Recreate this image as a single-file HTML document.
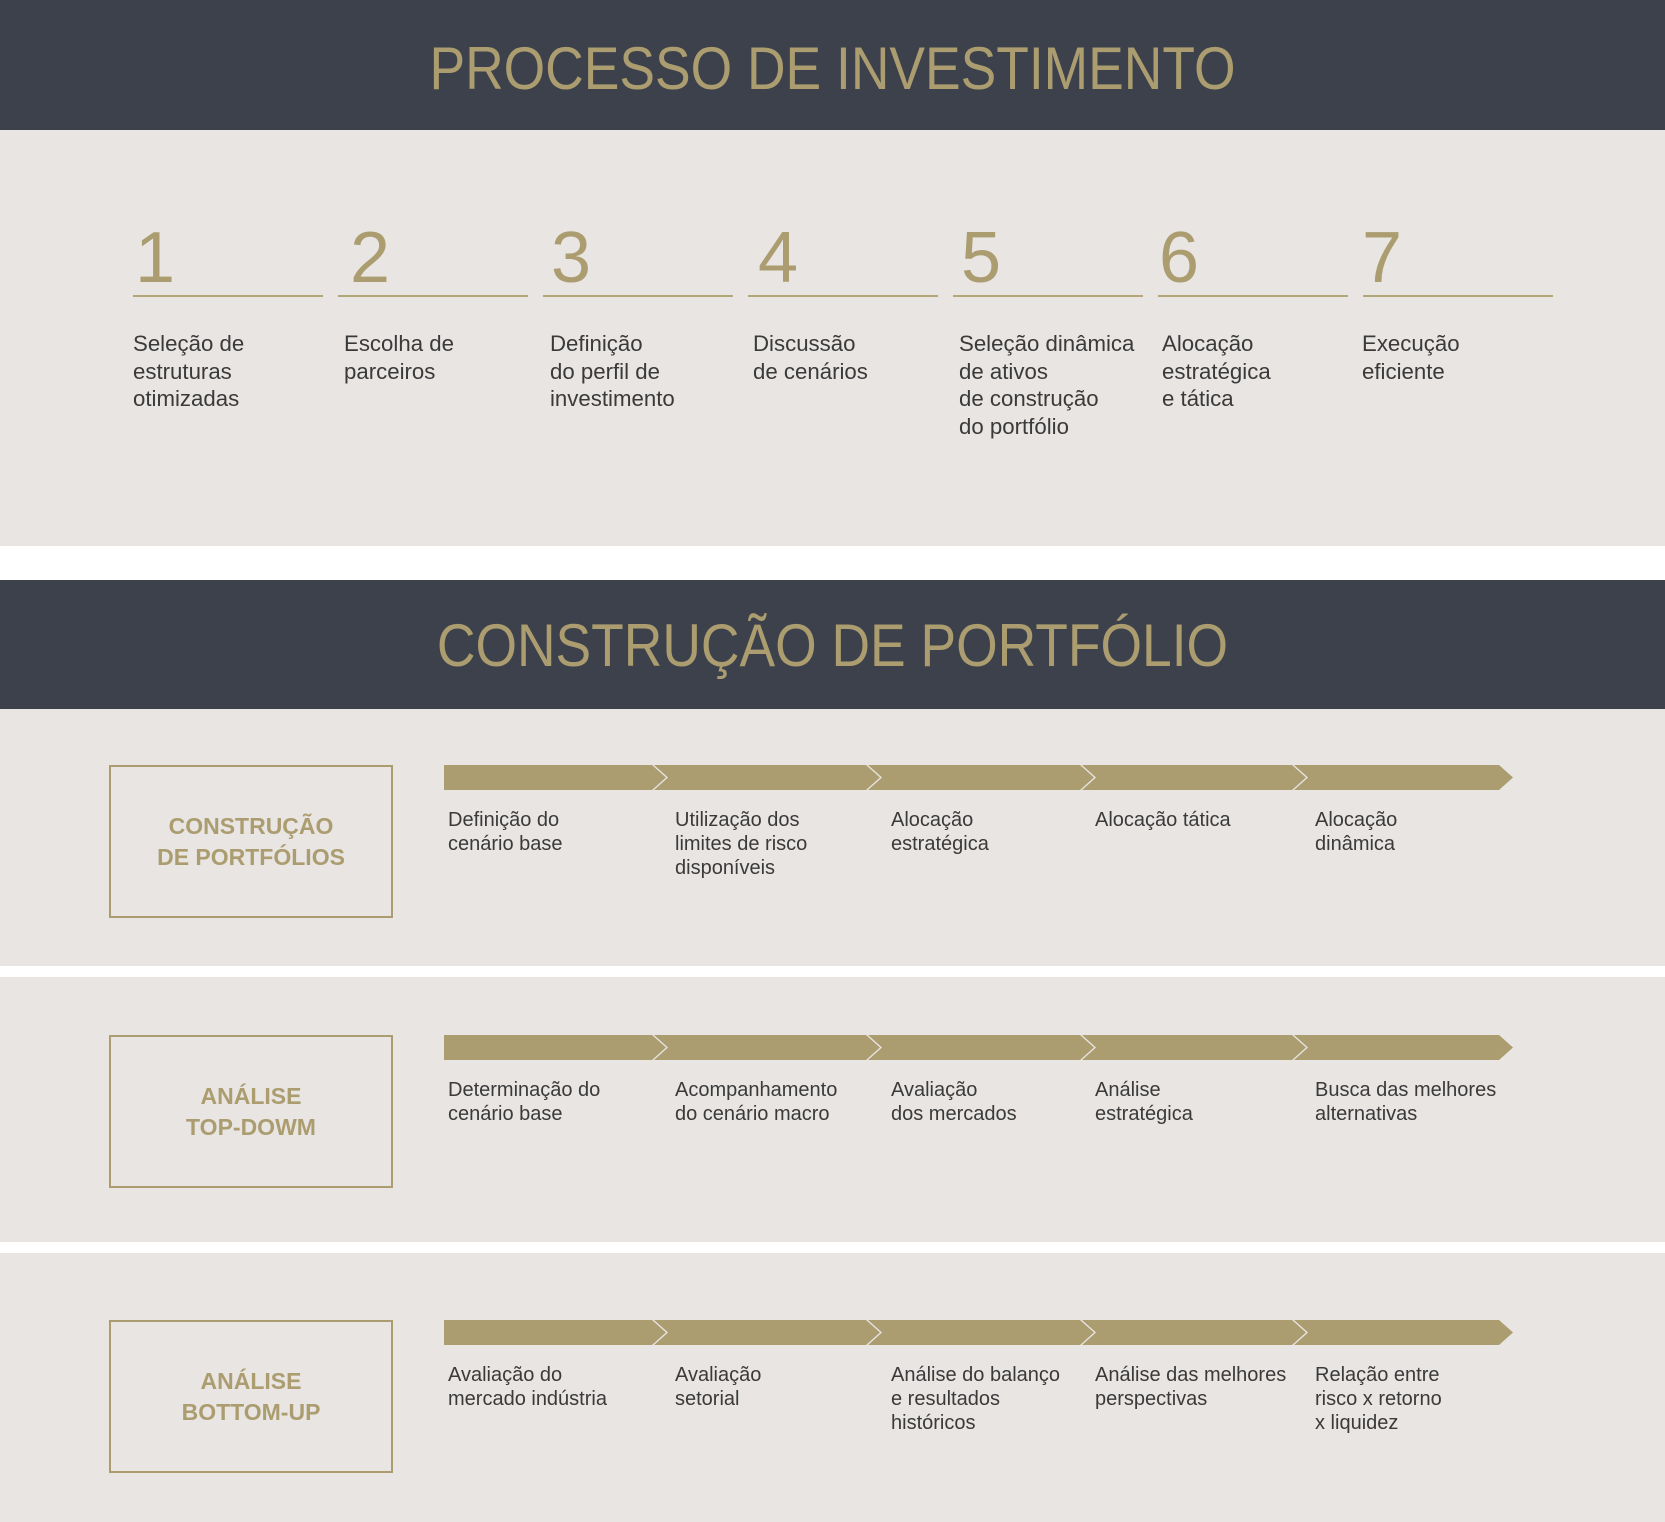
<!DOCTYPE html>
<html><head><meta charset="utf-8"><style>
body{margin:0;width:1665px;height:1522px;position:relative;background:#fff;font-family:"Liberation Sans",sans-serif;overflow:hidden}
.abs{position:absolute}
.hdr{left:0;width:1665px;height:130px;background:#3d414b}
.panel{left:0;width:1665px;background:#e8e5e3}
.title{left:0;width:1665px;text-align:center;color:#ab9d6f;font-size:60px;font-weight:300;letter-spacing:0px;transform:scaleX(0.89)}
.num{color:#ab9d6f;font-size:72px;line-height:76px}
.rule{height:2px;background:#b3a678;width:190px}
.st{color:#3a3a3a;font-size:22px;line-height:27.5px;transform-origin:left top;transform:scaleX(1.01);white-space:nowrap}
.box{width:284px;height:153px;border:2px solid #ab9d6f;box-sizing:border-box;display:flex;align-items:center;justify-content:center;text-align:center;color:#ab9d6f;font-size:23px;line-height:31px;font-weight:bold}
.lbl{color:#3a3a3a;font-size:20px;line-height:24px;white-space:nowrap;transform-origin:left top;transform:scaleX(1.0)}
</style></head><body>
<div class="abs hdr" style="top:0"></div>
<div class="abs title" style="top:34px">PROCESSO DE INVESTIMENTO</div>
<div class="abs panel" style="top:130px;height:416px"></div>
<div class="abs hdr" style="top:580px;height:129px"></div>
<div class="abs title" style="top:611px">CONSTRUÇÃO DE PORTFÓLIO</div>
<div class="abs panel" style="top:709px;height:257px"></div>
<div class="abs panel" style="top:977px;height:265px"></div>
<div class="abs panel" style="top:1253px;height:269px"></div>
<div id="steps"></div>
<svg id="arrows" class="abs" style="left:0;top:0" width="1665" height="1522"></svg>
<div id="rows"></div>
<script>
const stepNums=["1","2","3","4","5","6","7"];
const stepX=[133,338,543,748,953,1158,1363];
const stepNumX=[135,350,551,758,961,1159,1362];
const stepTextX=[133,344,550,753,959,1162,1362];
const stepTexts=[["Seleção de","estruturas","otimizadas"],["Escolha de","parceiros"],["Definição","do perfil de","investimento"],["Discussão","de cenários"],["Seleção dinâmica","de ativos","de construção","do portfólio"],["Alocação","estratégica","e tática"],["Execução","eficiente"]];
const stepsEl=document.getElementById('steps');
for(let i=0;i<7;i++){
 const n=document.createElement('div');n.className='abs num';n.style.left=stepNumX[i]+'px';n.style.top='220px';n.textContent=stepNums[i];
 
 
 stepsEl.appendChild(n);
 const r=document.createElement('div');r.className='abs rule';r.style.left=stepX[i]+'px';r.style.top='295px';
 
 
 stepsEl.appendChild(r);
 const t=document.createElement('div');t.className='abs st';t.style.left=stepTextX[i]+'px';t.style.top='330px';t.innerHTML=stepTexts[i].join('<br>');
 
 
 stepsEl.appendChild(t);
}
const rowTitles=[["CONSTRUÇÃO","DE PORTFÓLIOS"],["ANÁLISE","TOP-DOWM"],["ANÁLISE","BOTTOM-UP"]];
const rowTop=[765,1035,1320];
const rowLabels=[
 [["Definição do","cenário base"],["Utilização dos","limites de risco","disponíveis"],["Alocação","estratégica"],["Alocação tática"],["Alocação","dinâmica"]],
 [["Determinação do","cenário base"],["Acompanhamento","do cenário macro"],["Avaliação","dos mercados"],["Análise","estratégica"],["Busca das melhores","alternativas"]],
 [["Avaliação  do","mercado indústria"],["Avaliação","setorial"],["Análise do balanço","e resultados","históricos"],["Análise das melhores","perspectivas"],["Relação entre","risco x retorno","x liquidez"]]
];
const labelX=[448,675,891,1095,1315];
const segStart=[444,654,868,1082,1294];
const segEnd=[652,866,1080,1292,1499];
const svg=document.getElementById('arrows');
const rowsEl=document.getElementById('rows');
const ns='http://www.w3.org/2000/svg';
for(let r=0;r<3;r++){
 const y=rowTop[r],h=25;
 const b=document.createElement('div');b.className='abs box';b.style.left='109px';b.style.top=y+'px';b.innerHTML=rowTitles[r].join('<br>');
 
 
 rowsEl.appendChild(b);
 for(let s=0;s<5;s++){
  const x0=segStart[s],x1=segEnd[s],tip=14;
  let p=s===0?`${x0},${y} ${x1},${y} ${x1+tip},${y+h/2} ${x1},${y+h} ${x0},${y+h}`:`${x0},${y} ${x1},${y} ${x1+tip},${y+h/2} ${x1},${y+h} ${x0},${y+h} ${x0+tip},${y+h/2}`;
  const pg=document.createElementNS(ns,'polygon');pg.setAttribute('points',p);pg.setAttribute('fill','#ab9d6f');
  
  
  svg.appendChild(pg);
  const l=document.createElement('div');l.className='abs lbl';l.style.left=labelX[s]+'px';l.style.top=(y+43)+'px';l.innerHTML=rowLabels[r][s].join('<br>');
  
  
  rowsEl.appendChild(l);
 }
}
</script>
</body></html>
